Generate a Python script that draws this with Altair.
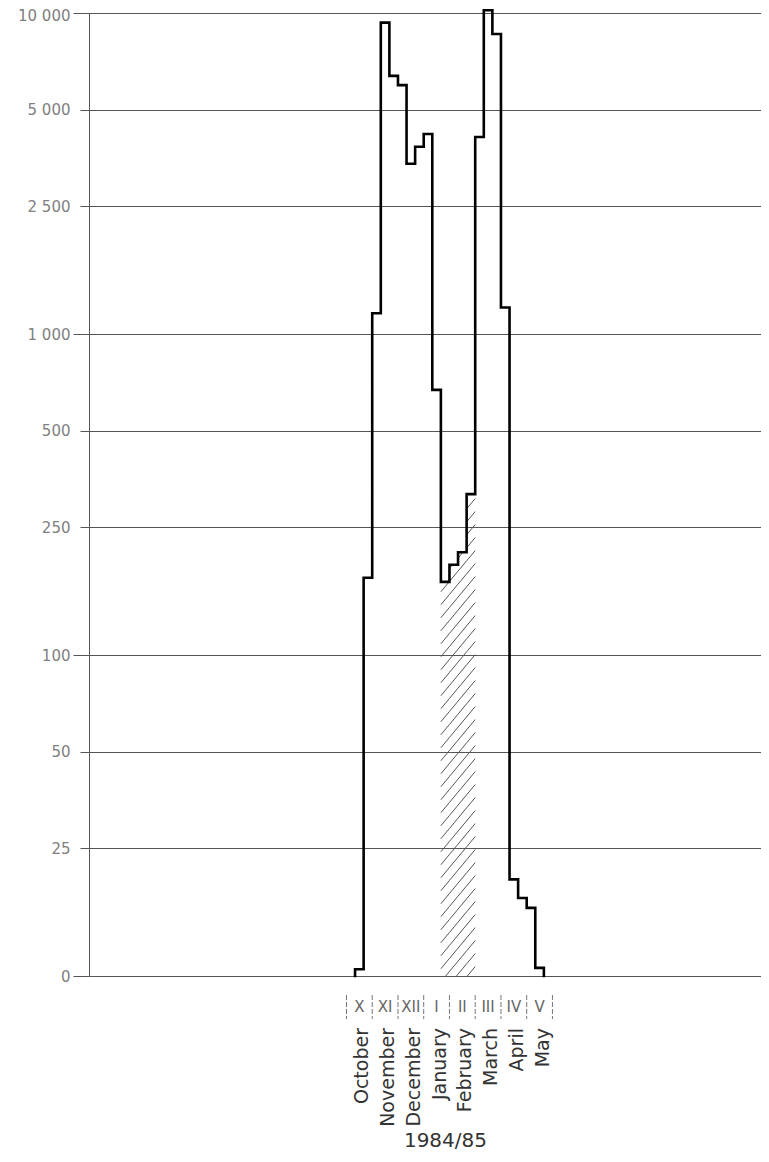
import math
import altair as alt
import pandas as pd

# ---------------- data ----------------
# ten-day periods (dekads) counted from 1 October 1984 (= 0)
dekad_start = list(range(1, 23))
counts = [10.5, 174, 1160, 9330, 6370, 5960, 3390, 3830, 4200, 670,
          169, 191, 209, 317, 4110, 10200, 8600, 1210, 20, 17.5, 16.3, 10.6]
hatched_dekads = [11, 12, 13, 14]
month_bounds = [0, 3, 6, 9, 12, 15, 18, 21, 24]
roman = ["X", "XI", "XII", "I", "II", "III", "IV", "V"]
months = ["October", "November", "December", "January", "February",
          "March", "April", "May"]
season = "1984/85"
y_ticks_major = [10, 100, 1000, 10000]
y_ticks_minor = [25, 50, 250, 500, 2500, 5000]
y_labels = {10: "0", 25: "25", 50: "50", 100: "100", 250: "250", 500: "500",
            1000: "1 000", 2500: "2 500", 5000: "5 000", 10000: "10 000"}

# ---------------- layout ----------------
W, H = 672, 963
X_DOMAIN = [-30, 48.3]
Y_DOMAIN = [10, 10000]
BASE = Y_DOMAIN[0]
FONT = "DejaVu Sans"
GRID = "#555555"
LABEL = "#808080"

xscale = alt.Scale(domain=X_DOMAIN, nice=False, zero=False)
yscale = alt.Scale(type="log", domain=Y_DOMAIN, nice=False)

label_expr = "".join(f"datum.value == {k} ? '{v}' : " for k, v in y_labels.items()) + "''"

common_y = dict(grid=True, gridColor=GRID, gridWidth=1, tickColor=GRID, tickWidth=1,
                labelColor=LABEL, labelFont=FONT, labelFontSize=15,
                labelExpr=label_expr, title=None, orient="left",
                labelBaseline="middle")
yaxis_major = alt.Axis(values=y_ticks_major, tickSize=16, labelPadding=3,
                       domain=True, domainColor=GRID, domainWidth=1,
                       labelOffset={"condition": {"test": f"datum.value == {Y_DOMAIN[1]}",
                                                  "value": 2}, "value": 0},
                       **common_y)
yaxis_minor = alt.Axis(values=y_ticks_minor, tickSize=9, labelPadding=10,
                       domain=False, **common_y)
xaxis = alt.Axis(values=month_bounds, labels=False, tickSize=9, ticks=True,
                 tickColor=GRID, domain=True, domainColor=GRID, domainWidth=1,
                 grid=False, title=None)

# ---------------- step outline ----------------
path_x = [dekad_start[0]] + dekad_start + [dekad_start[-1] + 1]
path_v = [BASE] + counts + [BASE]
outline = pd.DataFrame({"x": path_x, "v": path_v, "i": range(len(path_x))})

line = alt.Chart(outline).mark_line(
    interpolate="step-after", color="black", strokeWidth=2.6,
    strokeJoin="miter", strokeCap="square"
).encode(
    x=alt.X("x:Q", scale=xscale, axis=xaxis),
    y=alt.Y("v:Q", scale=yscale, axis=yaxis_major),
    order="i:Q",
)

# ---------------- hatching under the January/February steps ----------------
pxd = W / (X_DOMAIN[1] - X_DOMAIN[0])
lmin, lmax = math.log10(Y_DOMAIN[0]), math.log10(Y_DOMAIN[1])


def xpx(d):
    return (d - X_DOMAIN[0]) * pxd


def ypx(v):
    return (lmax - math.log10(v)) / (lmax - lmin) * H


def xdat(p):
    return X_DOMAIN[0] + p / pxd


def ydat(p):
    return 10 ** (lmax - p / H * (lmax - lmin))


slope, spacing = 1.2, 13.0
segs = []
for d in hatched_dekads:
    v = counts[dekad_start.index(d)]
    xa, xb, yt, yb = xpx(d), xpx(d + 1), ypx(v), H
    kmin = int((yt + slope * xa) // spacing) - 1
    kmax = int((yb + slope * xb) // spacing) + 2
    for k in range(kmin, kmax):
        c = k * spacing
        lo = max(xa, (c - yb) / slope)
        hi = min(xb, (c - yt) / slope)
        if hi - lo > 0.3:
            segs.append({"x1": xdat(lo), "y1": ydat(c - slope * lo),
                         "x2": xdat(hi), "y2": ydat(c - slope * hi)})
hatch_df = pd.DataFrame(segs)

hatch = alt.Chart(hatch_df).mark_rule(color="#555555", strokeWidth=1).encode(
    x=alt.X("x1:Q", scale=xscale, axis=None),
    x2="x2:Q",
    y=alt.Y("y1:Q", scale=yscale, axis=yaxis_minor),
    y2="y2:Q",
)

# ---------------- month annotations below the axis ----------------
sep = alt.Chart(pd.DataFrame({"x": month_bounds})).mark_rule(
    color="#777777", strokeWidth=1, strokeDash=[5, 2]
).encode(
    x=alt.X("x:Q", scale=xscale, axis=None),
    y=alt.value(H + 19), y2=alt.value(H + 43),
)

mid = [(month_bounds[i] + month_bounds[i + 1]) / 2 for i in range(len(months))]
mdf = pd.DataFrame({"x": mid, "r": roman, "m": months})

roman_txt = alt.Chart(mdf).mark_text(
    font=FONT, fontSize=15, color="#666666", baseline="middle", align="center"
).encode(
    x=alt.X("x:Q", scale=xscale, axis=None), y=alt.value(H + 31), text="r:N"
)

month_txt = alt.Chart(mdf).mark_text(
    font=FONT, fontSize=19, color="#333333", angle=270, align="right",
    baseline="middle", dy=3
).encode(
    x=alt.X("x:Q", scale=xscale, axis=None), y=alt.value(H + 52), text="m:N"
)

season_df = pd.DataFrame({"x": [(month_bounds[0] + month_bounds[-1]) / 2], "t": [season]})
season_txt = alt.Chart(season_df).mark_text(
    font=FONT, fontSize=20, color="#333333", baseline="middle", align="center", dx=-4
).encode(
    x=alt.X("x:Q", scale=xscale, axis=None), y=alt.value(H + 165), text="t:N"
)

chart = alt.layer(
    hatch, line, sep, roman_txt, month_txt, season_txt
).resolve_axis(y="independent").properties(
    width=W, height=H,
    autosize=alt.AutoSizeParams(type="none"),
    padding={"left": 81, "top": 5, "right": 0, "bottom": 178},
    background="white",
).configure_view(stroke=None)

chart.save("out.html", embed_options={"renderer": "svg", "actions": False})
